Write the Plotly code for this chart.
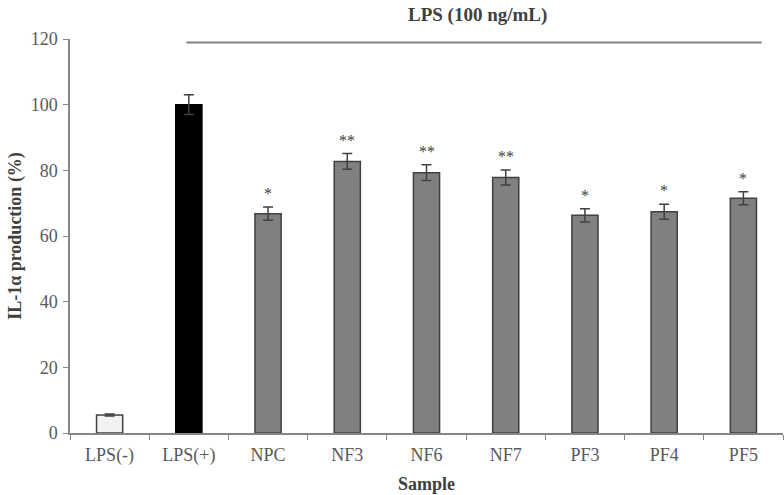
import plotly.graph_objects as go

categories = ["LPS(-)", "LPS(+)", "NPC", "NF3", "NF6", "NF7", "PF3", "PF4", "PF5"]
values = [5.5, 100.0, 66.8, 82.7, 79.3, 77.8, 66.3, 67.4, 71.5]
errors = [0.3, 3.0, 2.0, 2.4, 2.4, 2.3, 2.0, 2.3, 2.0]
stars = ["", "", "*", "**", "**", "**", "*", "*", "*"]
bar_colors = ["#f2f2f2", "#000000", "#808080", "#808080", "#808080", "#808080", "#808080", "#808080", "#808080"]
line_colors = ["#404040", "#000000", "#404040", "#404040", "#404040", "#404040", "#404040", "#404040", "#404040"]

FONT = "Liberation Serif, Times New Roman, serif"

fig = go.Figure()
fig.add_trace(go.Bar(
    x=categories, y=values, width=0.33,
    marker=dict(color=bar_colors, line=dict(color=line_colors, width=1.5)),
    error_y=dict(type="data", array=errors, visible=True, color="#404040", thickness=1.5, width=5),
    showlegend=False,
))

for c, v, e, s in zip(categories, values, errors, stars):
    if s:
        fig.add_annotation(x=c, y=v + e, text=s, showarrow=False, yanchor="bottom", yshift=3,
                           font=dict(family=FONT, size=16, color="#404040"))

fig.add_shape(type="line", xref="x", yref="y", x0=0.97, x1=8.23, y0=118.9, y1=118.9,
              line=dict(color="#808080", width=2))
fig.add_annotation(xref="x", yref="paper", x=4.64, y=1.061, text="<b>LPS (100 ng/mL)</b>",
                   showarrow=False, yanchor="middle",
                   font=dict(family=FONT, size=19, color="#404040"))

fig.update_layout(
    width=784, height=495,
    margin=dict(l=70, r=1, t=39, b=62),
    plot_bgcolor="white", paper_bgcolor="white",
    font=dict(family=FONT, size=18, color="#595959"),
    xaxis=dict(
        range=[-0.5, 8.5], showline=True, linecolor="#868686", linewidth=1.5,
        ticks="outside", tickson="boundaries", ticklen=5, tickcolor="#868686",
        showgrid=False, ticklabelstandoff=5, automargin=False,
        title=dict(text="<b>Sample</b>", standoff=12, font=dict(size=18, color="#404040")),
    ),
    yaxis=dict(
        range=[0, 120], tickvals=[0, 20, 40, 60, 80, 100, 120], showline=True,
        linecolor="#868686", linewidth=1.5, ticks="outside", ticklen=5, tickcolor="#868686",
        showgrid=False, zeroline=False, ticklabelstandoff=2, automargin=False,
        title=dict(text="<b>IL-1α production (%)</b>", standoff=4, font=dict(size=18, color="#404040")),
    ),
)

fig.write_html("out.html", config={"displayModeBar": False},
               post_script="document.body.style.margin='0';document.body.style.overflow='hidden';")
